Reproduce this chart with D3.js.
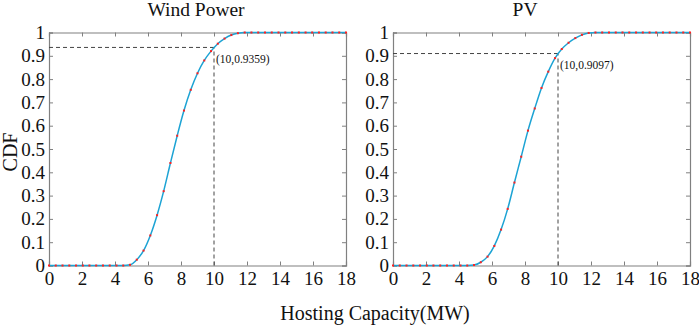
<!DOCTYPE html>
<html>
<head>
<meta charset="utf-8">
<script src="https://cdn.jsdelivr.net/npm/d3@7"></script>
<style>
  body { margin: 0; background: #fff; }
  svg { display: block; }
  text { font-family: "Liberation Serif", "DejaVu Serif", serif; }
</style>
</head>
<body>
<svg width="699" height="326"></svg>
<script>
// sample positions of the red markers (MW)
const hostingCap = [0, 0.41, 0.82, 1.23, 1.64, 2.05, 2.45, 2.86, 3.27, 3.68, 4.09, 4.5, 4.91,
  5.32, 5.73, 6.14, 6.55, 6.95, 7.36, 7.77, 8.18, 8.59, 9.0, 9.41, 9.82, 10.23, 10.64, 11.05,
  11.45, 11.86, 12.27, 12.68, 13.09, 13.5, 13.91, 14.32, 14.73, 15.14, 15.55, 15.95, 16.36,
  16.77, 17.18, 17.59, 18.0];

// CDF
const windCdf = [0, 0, 0, 0, 0, 0, 0, 0, 0, 0, 0, 0, 0.003,
  0.025, 0.064, 0.129, 0.216, 0.319, 0.44, 0.557, 0.665, 0.754, 0.825, 0.88, 0.92, 0.952, 0.974, 0.989,
  0.997, 1, 1, 1, 1, 1, 1, 1, 1, 1, 1, 1, 1,
  1, 1, 1, 1];

const pvCdf = [0, 0, 0, 0, 0, 0, 0, 0, 0, 0, 0, 0, 0.002,
  0.014, 0.038, 0.084, 0.154, 0.243, 0.356, 0.467, 0.579, 0.674, 0.762, 0.832, 0.89, 0.929, 0.956, 0.976,
  0.99, 0.998, 1, 1, 1, 1, 1, 1, 1, 1, 1, 1, 1,
  1, 1, 1, 1];

const xTicks = [0, 2, 4, 6, 8, 10, 12, 14, 16, 18];
const yTicks = [0, 0.1, 0.2, 0.3, 0.4, 0.5, 0.6, 0.7, 0.8, 0.9, 1];

const panels = [
  { title: "Wind Power", values: windCdf, markX: 10, markY: 0.9359, label: "(10,0.9359)", left: 49, right: 346, titleX: 196 },
  { title: "PV", values: pvCdf, markX: 10, markY: 0.9097, label: "(10,0.9097)", left: 393, right: 690, titleX: 525 }
];

const svg = d3.select("svg");
const plotTop = 32.5, plotBottom = 265.5;
const frame = "#808080";
const serif = "'Liberation Serif', 'DejaVu Serif', serif";

panels.forEach(p => {
  const x = d3.scaleLinear().domain([0, 18]).range([p.left, p.right]);
  const y = d3.scaleLinear().domain([0, 1]).range([plotBottom, plotTop]);
  const g = svg.append("g");

  // inward ticks on all four sides
  const tickLen = -4;
  const axes = [
    g.append("g").attr("transform", `translate(0,${plotBottom})`)
      .call(d3.axisBottom(x).tickValues(xTicks).tickSize(tickLen).tickPadding(6).tickFormat(d3.format("d"))),
    g.append("g").attr("transform", `translate(0,${plotTop})`)
      .call(d3.axisTop(x).tickValues(xTicks).tickSize(tickLen).tickFormat("")),
    g.append("g").attr("transform", `translate(${p.left},0)`)
      .call(d3.axisLeft(y).tickValues(yTicks).tickSize(tickLen).tickPadding(4)
        .tickFormat(d => d === 0 || d === 1 ? d3.format("d")(d) : d3.format(".1f")(d))),
    g.append("g").attr("transform", `translate(${p.right},0)`)
      .call(d3.axisRight(y).tickValues(yTicks).tickSize(tickLen).tickFormat(""))
  ];
  axes.forEach(a => a.attr("font-family", serif).attr("font-size", 19));

  g.selectAll(".domain").attr("stroke", frame).attr("stroke-width", 1.2);
  g.selectAll(".tick line").attr("stroke", frame);
  g.selectAll(".tick text").attr("fill", "#111");

  // dashed guides
  g.append("line")
    .attr("x1", x(0)).attr("x2", x(p.markX))
    .attr("y1", y(p.markY)).attr("y2", y(p.markY))
    .attr("stroke", "#444").attr("stroke-dasharray", "4,3");
  g.append("line")
    .attr("x1", x(p.markX)).attr("x2", x(p.markX))
    .attr("y1", y(0)).attr("y2", y(p.markY))
    .attr("stroke", "#444").attr("stroke-dasharray", "4,3");

  // fitted curve
  const pts = hostingCap.map((h, i) => [h, p.values[i]]);
  g.append("path")
    .datum(pts)
    .attr("fill", "none")
    .attr("stroke", "#1ca3d4")
    .attr("stroke-width", 1.5)
    .attr("d", d3.line().x(d => x(d[0])).y(d => y(d[1])).curve(d3.curveMonotoneX));

  // red sample markers
  g.selectAll("rect.pt")
    .data(pts)
    .join("rect")
    .attr("class", "pt")
    .attr("x", d => x(d[0]) - 1)
    .attr("y", d => y(d[1]) - 1)
    .attr("width", 2)
    .attr("height", 2)
    .attr("fill", "#ff2020");

  g.append("text")
    .attr("x", x(p.markX) + 2)
    .attr("y", y(p.markY) + 15.5)
    .style("font-size", "11.5px")
    .attr("fill", "#111")
    .text(p.label);

  g.append("text")
    .attr("x", p.titleX)
    .attr("y", 16)
    .attr("text-anchor", "middle")
    .style("font-size", "19.5px")
    .attr("fill", "#111")
    .text(p.title);
});

svg.append("text")
  .attr("x", 375)
  .attr("y", 320)
  .attr("text-anchor", "middle")
  .style("font-size", "20px")
  .attr("fill", "#111")
  .text("Hosting Capacity(MW)");

svg.append("text")
  .attr("transform", "translate(17,152) rotate(-90)")
  .attr("text-anchor", "middle")
  .style("font-size", "20px")
  .attr("fill", "#111")
  .text("CDF");
</script>
</body>
</html>
